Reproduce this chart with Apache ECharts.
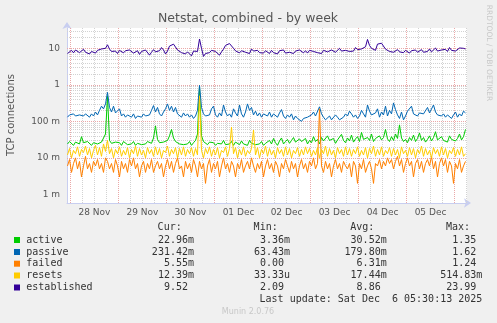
<!DOCTYPE html>
<html><head><meta charset="utf-8">
<script src="https://cdn.jsdelivr.net/npm/echarts@6/dist/echarts.min.js"></script>
<style>html,body{margin:0;padding:0;background:#f0f0f0}#c{width:497px;height:323px}</style>
</head><body><div id="c"></div><script>
// ---- data (hourly samples) ----
const seriesNames = ['active', 'passive', 'failed', 'resets', 'established'];
const seriesColors = ['#00cc00', '#0066b3', '#ff8000', '#ffcc00', '#330099'];
const startTime = Date.UTC(2025, 10, 27, 22, 30);
const stepHours = 1;

const active = [
  0.024,0.028,0.025,0.022,0.027,0.030,0.024,0.038,0.026,0.023,0.028,0.025,0.022,0.026,0.029,0.024,0.022,0.027,0.030,0.045,
  0.50,0.030,0.025,0.023,0.027,0.024,0.026,0.022,0.028,0.025,0.023,0.026,0.024,0.028,0.022,0.025,0.027,0.023,0.026,0.024,
  0.028,0.030,0.025,0.035,0.075,0.032,0.026,0.023,0.027,0.025,0.030,0.040,0.060,0.035,0.028,0.026,0.024,0.027,0.023,0.026,
  0.024,0.028,0.022,0.026,0.030,0.045,0.90,0.040,0.028,0.025,0.023,0.027,0.024,0.026,0.022,0.025,0.028,0.024,0.030,0.023,
  0.026,0.024,0.028,0.022,0.027,0.025,0.023,0.029,0.024,0.026,0.022,0.030,0.025,0.027,0.023,0.026,0.024,0.028,0.022,0.025,
  0.027,0.030,0.024,0.034,0.026,0.022,0.029,0.035,0.024,0.028,0.032,0.025,0.030,0.036,0.027,0.024,0.033,0.028,0.026,0.034,
  0.024,0.030,0.026,0.038,0.028,0.032,0.024,0.036,0.029,0.026,0.040,0.030,0.027,0.034,0.025,0.031,0.028,0.044,0.030,0.026,
  0.035,0.029,0.042,0.027,0.033,0.038,0.028,0.050,0.032,0.029,0.036,0.030,0.045,0.028,0.034,0.030,0.040,0.031,0.036,0.060,
  0.033,0.028,0.038,0.030,0.045,0.034,0.080,0.035,0.028,0.032,0.026,0.036,0.030,0.042,0.028,0.034,0.048,0.030,0.036,0.027,
  0.032,0.040,0.029,0.036,0.052,0.031,0.028,0.038,0.030,0.034,0.027,0.040,0.032,0.036,0.029,0.034,0.045,0.031,0.038,0.060
];
const passive = [
  0.13,0.15,0.14,0.16,0.14,0.13,0.15,0.17,0.14,0.16,0.15,0.13,0.16,0.14,0.18,0.15,0.20,0.26,0.22,0.30,
  0.62,0.24,0.18,0.26,0.17,0.15,0.22,0.14,0.16,0.13,0.15,0.17,0.13,0.16,0.12,0.14,0.15,0.13,0.16,0.14,
  0.13,0.15,0.20,0.27,0.18,0.24,0.16,0.14,0.18,0.22,0.30,0.20,0.26,0.18,0.24,0.16,0.15,0.13,0.17,0.14,
  0.16,0.13,0.15,0.12,0.14,0.20,0.97,0.24,0.16,0.14,0.13,0.15,0.22,0.26,0.15,0.13,0.17,0.14,0.28,0.18,
  0.14,0.16,0.13,0.22,0.17,0.14,0.28,0.16,0.13,0.18,0.30,0.20,0.24,0.15,0.19,0.14,0.17,0.13,0.16,0.15,
  0.14,0.18,0.13,0.16,0.15,0.13,0.17,0.21,0.14,0.12,0.15,0.13,0.16,0.11,0.14,0.12,0.13,0.10,0.12,0.11,
  0.13,0.12,0.15,0.18,0.14,0.13,0.25,0.16,0.13,0.11,0.12,0.14,0.11,0.12,0.15,0.13,0.11,0.12,0.13,0.16,
  0.14,0.19,0.16,0.13,0.15,0.12,0.14,0.20,0.16,0.13,0.28,0.19,0.15,0.14,0.17,0.22,0.13,0.18,0.15,0.26,
  0.14,0.20,0.16,0.32,0.21,0.15,0.12,0.18,0.11,0.14,0.19,0.17,0.26,0.16,0.15,0.14,0.17,0.15,0.16,0.18,
  0.24,0.17,0.16,0.28,0.18,0.15,0.17,0.14,0.16,0.13,0.15,0.14,0.12,0.15,0.18,0.13,0.16,0.14,0.19,0.17
];
const failed = [
  0.006,0.009,0.004,0.007,0.010,0.005,0.008,0.003,0.006,0.011,0.005,0.007,0.004,0.008,0.006,0.009,0.005,0.007,0.004,0.010,
  0.008,0.005,0.007,0.004,0.009,0.006,0.003,0.008,0.005,0.007,0.004,0.009,0.006,0.010,0.005,0.007,0.003,0.006,0.008,0.004,
  0.007,0.005,0.009,0.004,0.006,0.008,0.005,0.007,0.003,0.006,0.009,0.005,0.008,0.004,0.007,0.010,0.005,0.006,0.003,0.008,
  0.005,0.007,0.004,0.009,0.006,0.003,0.008,0.005,0.007,0.002,0.006,0.009,0.004,0.007,0.005,0.008,0.003,0.006,0.010,0.005,
  0.007,0.004,0.008,0.006,0.003,0.007,0.005,0.009,0.004,0.006,0.008,0.005,0.010,0.006,0.004,0.007,0.005,0.008,0.003,0.006,
  0.009,0.005,0.007,0.004,0.008,0.006,0.003,0.007,0.005,0.009,0.006,0.004,0.008,0.005,0.007,0.003,0.006,0.009,0.005,0.007,
  0.004,0.008,0.006,0.010,0.005,0.007,0.22,0.006,0.004,0.008,0.005,0.007,0.003,0.006,0.009,0.005,0.007,0.004,0.008,0.006,
  0.005,0.007,0.003,0.008,0.006,0.002,0.007,0.005,0.009,0.004,0.006,0.008,0.005,0.002,0.007,0.006,0.009,0.005,0.008,0.006,
  0.010,0.007,0.009,0.005,0.008,0.011,0.006,0.009,0.004,0.007,0.010,0.006,0.008,0.003,0.007,0.009,0.005,0.008,0.004,0.007,
  0.009,0.006,0.011,0.005,0.008,0.003,0.007,0.010,0.006,0.009,0.004,0.008,0.006,0.002,0.007,0.005,0.009,0.004,0.006,0.008
];
const resets = [
  0.012,0.018,0.010,0.016,0.013,0.020,0.011,0.017,0.014,0.021,0.012,0.018,0.010,0.016,0.022,0.012,0.019,0.011,0.024,0.015,
  0.030,0.013,0.018,0.010,0.017,0.013,0.020,0.011,0.016,0.012,0.019,0.010,0.017,0.013,0.021,0.011,0.018,0.012,0.016,0.010,
  0.019,0.013,0.017,0.011,0.020,0.012,0.018,0.010,0.016,0.014,0.021,0.011,0.017,0.013,0.019,0.010,0.018,0.012,0.020,0.011,
  0.017,0.013,0.019,0.011,0.018,0.012,0.50,0.016,0.010,0.018,0.013,0.020,0.011,0.017,0.012,0.019,0.010,0.016,0.014,0.020,
  0.011,0.018,0.070,0.013,0.019,0.010,0.017,0.012,0.020,0.011,0.016,0.013,0.018,0.058,0.012,0.019,0.010,0.017,0.013,0.021,
  0.011,0.018,0.012,0.016,0.010,0.019,0.013,0.017,0.011,0.020,0.012,0.018,0.010,0.016,0.013,0.019,0.011,0.017,0.012,0.020,
  0.013,0.018,0.011,0.016,0.012,0.019,0.010,0.017,0.013,0.021,0.011,0.018,0.012,0.016,0.010,0.019,0.013,0.017,0.011,0.020,
  0.012,0.018,0.011,0.017,0.013,0.020,0.011,0.016,0.012,0.019,0.010,0.018,0.013,0.021,0.011,0.017,0.012,0.020,0.011,0.016,
  0.013,0.019,0.011,0.018,0.012,0.017,0.010,0.020,0.013,0.016,0.011,0.019,0.012,0.018,0.010,0.017,0.013,0.021,0.011,0.018,
  0.012,0.016,0.010,0.019,0.013,0.017,0.011,0.020,0.012,0.018,0.010,0.016,0.013,0.019,0.011,0.017,0.012,0.020,0.011,0.013
];
const established = [
  7.2,8.0,8.8,7.5,9.0,8.2,7.6,8.6,9.4,7.8,8.4,7.0,8.2,9.0,7.4,8.8,7.9,9.6,8.5,10.0,
  12.5,9.5,8.2,7.6,8.4,7.2,8.8,8.0,7.5,8.6,7.8,9.0,8.2,7.4,8.0,8.6,6.8,8.2,7.6,9.0,
  8.4,6.5,7.8,9.2,8.0,7.2,8.6,10.5,9.0,7.0,8.4,11.5,12.0,13.0,12.0,9.0,8.2,7.6,8.4,7.0,
  8.0,7.4,6.2,8.4,9.0,8.2,18.0,10.0,6.0,7.2,8.0,7.6,8.8,9.5,8.2,7.4,6.5,8.0,9.5,12.0,
  11.0,13.5,14.5,10.0,8.5,9.0,7.5,8.6,9.2,7.8,8.8,7.2,9.6,8.4,7.8,8.8,7.6,8.2,7.4,8.6,
  8.0,7.2,8.8,7.6,8.4,7.0,8.6,7.8,9.0,7.4,8.2,7.8,8.8,7.2,8.4,7.6,9.0,8.0,7.5,8.6,
  7.4,8.8,7.8,8.2,9.2,7.6,8.4,7.2,8.8,9.4,8.0,7.6,9.0,8.2,7.8,8.6,10.0,8.4,9.2,8.8,
  9.6,8.2,9.0,8.4,10.5,9.2,8.8,9.6,8.6,11.0,17.5,12.0,10.0,9.5,8.8,13.0,13.5,13.8,12.5,9.5,
  9.0,8.2,8.8,7.8,8.6,9.2,8.0,8.4,7.6,8.8,8.2,7.4,8.6,8.0,9.0,7.8,8.4,9.2,7.8,8.6,
  8.2,9.6,8.0,8.8,10.2,8.4,8.0,9.0,8.6,9.4,8.2,10.5,8.8,9.6,8.4,9.0,10.2,9.4,10.0,9.6
];

// legend table values
const curVals = ['22.96m', '231.42m', '5.55m', '12.39m', '9.52 '];
const minVals = ['3.36m', '63.43m', '0.00 ', '33.33u', '2.09 '];
const avgVals = ['30.52m', '179.80m', '6.31m', '17.44m', '8.86 '];
const maxVals = ['1.35 ', '1.62 ', '1.24 ', '514.83m', '23.99 '];

// axis ticks
const yTickValues = [0.001, 0.01, 0.1, 1, 10];
const dayLabels = ['28 Nov', '29 Nov', '30 Nov', '01 Dec', '02 Dec', '03 Dec', '04 Dec', '05 Dec'];
const firstDay = Date.UTC(2025, 10, 28);
const axisMin = Date.UTC(2025, 10, 27, 22, 15);
const axisMax = axisMin + 200 * 3600 * 1000;

// ---- build ----
const H = 3600 * 1000;
const allSeries = [active, passive, failed, resets, established];
const times = active.map((_, i) => startTime + i * stepHours * H);
const dayNoons = dayLabels.map((_, i) => firstDay + i * 24 * H + 12 * H);

const MAJOR = '#eaa8a8';
const MINOR = '#d2d2d2';
const gridLines = [];
for (let k = -4; k <= 1; k++) {
  for (let m = 1; m <= 9; m++) {
    const v = m * Math.pow(10, k);
    if (v < 5.8e-4 || v > 36) continue;
    gridLines.push({ yAxis: v, lineStyle: { color: m === 1 ? MAJOR : MINOR, type: [1, 1], width: 1 } });
  }
}
for (let t = firstDay; t < axisMax; t += 6 * H) {
  const major = ((t - firstDay) % (24 * H)) === 0;
  gridLines.push({ xAxis: t, lineStyle: { color: major ? MAJOR : MINOR, type: [1, 1], width: 1 } });
}

const series = [{
  type: 'line', data: [], silent: true, z: 1,
  markLine: { silent: true, z: 1, symbol: 'none', label: { show: false }, animation: false, data: gridLines }
}];
allSeries.forEach((arr, si) => {
  series.push({
    name: seriesNames[si], type: 'line', z: 3, showSymbol: false, animation: false,
    lineStyle: { width: 1, color: seriesColors[si] }, itemStyle: { color: seriesColors[si] },
    data: arr.map((v, i) => [times[i], v])
  });
});

const graphic = [];
const txt = (text, x, y, font, fill, align, vAlign, rot) => graphic.push({
  type: 'text', x, y, rotation: rot || 0, silent: true,
  style: { text, font, fill, align: align || 'left', verticalAlign: vAlign || 'middle' }
});
txt('Netstat, combined - by week', 248, 18.5, '12.5px "DejaVu Sans"', '#555', 'center');
txt('TCP connections', 11, 115, '10px "DejaVu Sans"', '#555', 'center', 'middle', Math.PI / 2);
txt('RRDTOOL / TOBI OETIKER', 488.5, 53, '7.5px "DejaVu Sans"', '#c8c8c8', 'center', 'middle', -Math.PI / 2);
const mono = '10px "DejaVu Sans Mono"';
const legCol = '#333';
const headerY = 227.5;
txt('Cur:', 181.7, headerY, mono, legCol, 'right');
txt('Min:', 277.7, headerY, mono, legCol, 'right');
txt('Avg:', 374.3, headerY, mono, legCol, 'right');
txt('Max:', 470, headerY, mono, legCol, 'right');
const rowY = [240, 252, 263.7, 275.5, 287.5];
seriesNames.forEach((n, i) => {
  graphic.push({ type: 'rect', silent: true, shape: { x: 14, y: rowY[i] - 3, width: 6, height: 6 }, style: { fill: seriesColors[i] } });
  txt(n, 26.3, rowY[i], mono, legCol, 'left');
  txt(curVals[i], 194, rowY[i], mono, legCol, 'right');
  txt(minVals[i], 290, rowY[i], mono, legCol, 'right');
  txt(avgVals[i], 386.7, rowY[i], mono, legCol, 'right');
  txt(maxVals[i], 482.3, rowY[i], mono, legCol, 'right');
});
txt('Last update: Sat Dec  6 05:30:13 2025', 482.3, 299.7, mono, legCol, 'right');
txt('Munin 2.0.76', 248, 312, '8px "DejaVu Sans"', '#c8c8c8', 'center');

const AXIS = '#c8cef0';
const chart = echarts.init(document.getElementById('c'), null, { renderer: 'canvas' });
chart.setOption({
  animation: false,
  backgroundColor: '#f0f0f0',
  grid: { left: 67, top: 28, width: 400, height: 175, show: true, backgroundColor: '#ffffff', borderWidth: 0 },
  xAxis: {
    type: 'value', min: axisMin, max: axisMax,
    axisLine: { show: true, lineStyle: { color: AXIS, width: 1 }, symbol: ['none', 'arrow'], symbolSize: [7, 7], symbolOffset: [0, 4] },
    axisTick: { show: false },
    splitLine: { show: false },
    axisLabel: {
      customValues: dayNoons, margin: 5, color: '#555', fontFamily: 'DejaVu Sans', fontSize: 9,
      formatter: (v) => { const i = dayNoons.indexOf(v); return i >= 0 ? dayLabels[i] : ''; }
    }
  },
  yAxis: {
    type: 'log', logBase: 10, min: 5.8e-4, max: 36,
    axisLine: { show: true, lineStyle: { color: AXIS, width: 1 }, symbol: ['none', 'arrow'], symbolSize: [7, 7], symbolOffset: [0, 6] },
    axisTick: { show: false },
    splitLine: { show: false },
    axisLabel: {
      customValues: yTickValues, margin: 7, color: '#555', fontFamily: 'DejaVu Sans', fontSize: 9,
      formatter: (v) => v >= 1 ? String(Math.round(v)) : Math.round(v * 1000) + ' m'
    }
  },
  graphic: graphic,
  series: series
});
</script></body></html>
